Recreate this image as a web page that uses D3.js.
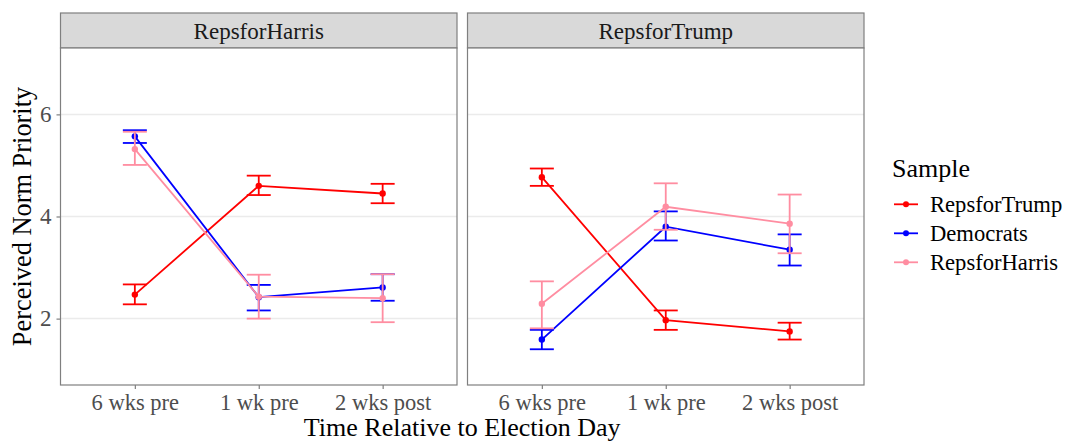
<html>
<head>
    <style>
        body { margin: 0; background: #fff; }
        text { font-family: "Liberation Serif", "Times New Roman", serif; }
    </style>
</head>
<body>
    <div id="chart"></div>
    <script src="https://d3js.org/d3.v7.min.js"></script>
    <script>
        // categories and facets
        var timepoints = ["6 wks pre", "1 wk pre", "2 wks post"];
        var panels = ["RepsforHarris", "RepsforTrump"];
        var samples = ["RepsforTrump", "Democrats", "RepsforHarris"];
        var colors = ["#ff0000", "#0000ff", "#ff8da1"];
        var yTicks = [2, 4, 6];

        // means, lower and upper error bounds (panel RepsforHarris)
        var harrisMean = [[2.47, 4.60, 4.45], [5.57, 2.42, 2.61], [5.32, 2.43, 2.40]];
        var harrisLow  = [[2.28, 4.42, 4.26], [5.44, 2.16, 2.35], [5.01, 2.00, 1.93]];
        var harrisHigh = [[2.67, 4.80, 4.64], [5.69, 2.66, 2.87], [5.66, 2.86, 2.87]];

        // panel RepsforTrump
        var trumpMean = [[4.77, 1.97, 1.75], [1.59, 3.80, 3.35], [2.29, 4.19, 3.86]];
        var trumpLow  = [[4.60, 1.78, 1.59], [1.40, 3.53, 3.04], [1.81, 3.74, 3.28]];
        var trumpHigh = [[4.94, 2.16, 1.92], [1.78, 4.10, 3.65], [2.73, 4.65, 4.43]];

        var panelData = [
            { mean: harrisMean, low: harrisLow, high: harrisHigh },
            { mean: trumpMean, low: trumpLow, high: trumpHigh }
        ];

        var width = 1073, height = 445;
        var panelLeft = [60.5, 467.5], panelWidth = 396.5;
        var stripTop = 13, plotTop = 48, plotBottom = 385;

        var svg = d3.select("#chart").append("svg")
            .attr("width", width)
            .attr("height", height);

        var y = d3.scaleLinear().domain([0.7, 7.3]).range([plotBottom, plotTop]);
        var color = d3.scaleOrdinal().domain(samples).range(colors);

        panels.forEach(function (p, pi) {
            var x0 = panelLeft[pi];
            var x = d3.scalePoint().domain(timepoints)
                .range([x0, x0 + panelWidth]).padding(0.6);
            var g = svg.append("g");

            // strip
            g.append("rect")
                .attr("x", x0).attr("y", stripTop)
                .attr("width", panelWidth).attr("height", plotTop - stripTop)
                .attr("fill", "#d9d9d9").attr("stroke", "#7f7f7f").attr("stroke-width", 1.2);
            g.append("text")
                .attr("x", x0 + panelWidth / 2).attr("y", (stripTop + plotTop) / 2)
                .attr("dy", "0.35em").attr("text-anchor", "middle")
                .attr("font-size", 23).attr("fill", "#1a1a1a")
                .text(p);

            // panel background + grid
            g.append("rect")
                .attr("x", x0).attr("y", plotTop)
                .attr("width", panelWidth).attr("height", plotBottom - plotTop)
                .attr("fill", "#fff");
            g.selectAll(".grid").data(yTicks).enter().append("line")
                .attr("x1", x0).attr("x2", x0 + panelWidth)
                .attr("y1", function (d) { return y(d); })
                .attr("y2", function (d) { return y(d); })
                .attr("stroke", "#ebebeb").attr("stroke-width", 1.5);

            var d = panelData[pi];
            samples.forEach(function (s, si) {
                var pts = timepoints.map(function (t, ti) {
                    return { t: t, m: d.mean[si][ti], lo: d.low[si][ti], hi: d.high[si][ti] };
                });
                var c = color(s);
                g.append("path")
                    .datum(pts)
                    .attr("fill", "none").attr("stroke", c).attr("stroke-width", 1.8)
                    .attr("d", d3.line().x(function (e) { return x(e.t); }).y(function (e) { return y(e.m); }));
                g.selectAll(".pt" + si).data(pts).enter().append("circle")
                    .attr("cx", function (e) { return x(e.t); })
                    .attr("cy", function (e) { return y(e.m); })
                    .attr("r", 3.2).attr("fill", c);
                var eb = g.selectAll(".eb" + si).data(pts).enter().append("g")
                    .attr("stroke", c).attr("stroke-width", 1.8);
                eb.append("line")
                    .attr("x1", function (e) { return x(e.t); }).attr("x2", function (e) { return x(e.t); })
                    .attr("y1", function (e) { return y(e.lo); }).attr("y2", function (e) { return y(e.hi); });
                eb.append("line")
                    .attr("x1", function (e) { return x(e.t) - 12; }).attr("x2", function (e) { return x(e.t) + 12; })
                    .attr("y1", function (e) { return y(e.lo); }).attr("y2", function (e) { return y(e.lo); });
                eb.append("line")
                    .attr("x1", function (e) { return x(e.t) - 12; }).attr("x2", function (e) { return x(e.t) + 12; })
                    .attr("y1", function (e) { return y(e.hi); }).attr("y2", function (e) { return y(e.hi); });
            });

            // panel border
            g.append("rect")
                .attr("x", x0).attr("y", plotTop)
                .attr("width", panelWidth).attr("height", plotBottom - plotTop)
                .attr("fill", "none").attr("stroke", "#7f7f7f").attr("stroke-width", 1.2);

            // x axis
            var xAxis = d3.axisBottom(x).tickSize(4).tickPadding(5);
            var ax = g.append("g").attr("transform", "translate(0," + plotBottom + ")").call(xAxis);
            ax.select(".domain").remove();
            ax.selectAll("line").attr("stroke", "#7f7f7f").attr("stroke-width", 1.2);
            ax.selectAll("text").attr("font-size", 22.5).attr("fill", "#4d4d4d")
                .attr("font-family", "Liberation Serif");
        });

        // y axis (left panel only)
        var yAxis = d3.axisLeft(y).tickValues(yTicks).tickFormat(d3.format("d"))
            .tickSize(4).tickPadding(5);
        var ay = svg.append("g").attr("transform", "translate(" + panelLeft[0] + ",0)").call(yAxis);
        ay.select(".domain").remove();
        ay.selectAll("line").attr("stroke", "#7f7f7f").attr("stroke-width", 1.2);
        ay.selectAll("text").attr("font-size", 23).attr("fill", "#4d4d4d")
            .attr("font-family", "Liberation Serif");

        // axis titles
        svg.append("text")
            .attr("x", (panelLeft[0] + panelLeft[1] + panelWidth) / 2).attr("y", 436)
            .attr("text-anchor", "middle").attr("font-size", 26).attr("fill", "#000")
            .text("Time Relative to Election Day");
        svg.append("text")
            .attr("transform", "translate(31," + (plotTop + plotBottom) / 2 + ") rotate(-90)")
            .attr("text-anchor", "middle").attr("font-size", 26.4).attr("fill", "#000")
            .text("Perceived Norm Priority");

        // legend
        var legend = svg.append("g").attr("transform", "translate(892,0)");
        legend.append("text")
            .attr("x", 0).attr("y", 177)
            .attr("font-size", 26).attr("fill", "#000")
            .text("Sample");
        var items = legend.selectAll(".item").data(samples).enter().append("g")
            .attr("transform", function (s, i) { return "translate(0," + (204.3 + i * 29) + ")"; });
        items.append("line")
            .attr("x1", 2).attr("x2", 26).attr("y1", 0).attr("y2", 0)
            .attr("stroke", function (s) { return color(s); }).attr("stroke-width", 1.8);
        items.append("circle")
            .attr("cx", 14).attr("cy", 0).attr("r", 3)
            .attr("fill", function (s) { return color(s); });
        items.append("text")
            .attr("x", 38).attr("y", 0).attr("dy", "0.35em")
            .attr("font-size", 22.6).attr("fill", "#000")
            .text(function (s) { return s; });
    </script>
</body>
</html>
